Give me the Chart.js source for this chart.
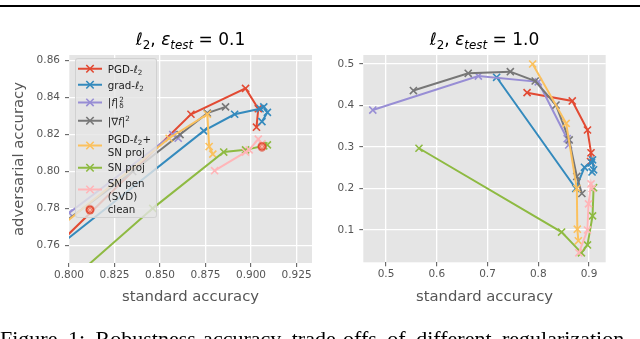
<!DOCTYPE html>
<html>
<head>
<meta charset="utf-8">
<script src="https://cdn.jsdelivr.net/npm/chart.js@4.4.1/dist/chart.umd.min.js"></script>
<style>
html,body{margin:0;padding:0;background:#fff;}
#wrap{position:relative;width:640px;height:339px;overflow:hidden;font-family:"DejaVu Sans",sans-serif;}
canvas.ch{position:absolute;top:0;}
#cL{left:0;} #cR{left:320px;}
#rule{position:absolute;left:0;top:5px;width:640px;height:2.3px;background:#000;}
.ttl{position:absolute;top:31.3px;font-size:17px;line-height:17px;color:#000;white-space:nowrap;transform:translateX(-50%);}
.ttl sub{font-size:0.7em;vertical-align:-0.3em;line-height:0;}
#legend{position:absolute;left:75px;top:58px;width:82px;height:160px;background:rgba(229,229,229,0.8);border:1px solid rgba(204,204,204,0.8);border-radius:3px;box-sizing:border-box;}
.row{position:absolute;left:0;display:flex;align-items:center;font-size:10.3px;line-height:12.5px;color:#222;transform:translateY(-50%);white-space:nowrap;}
.row .hd{margin-left:2px;margin-right:5.7px;flex:none;display:block;}
.row sub,.row sup{font-size:0.7em;line-height:0;}
.row sub{vertical-align:-0.3em;}
.row sup{vertical-align:0.55em;}
.ss{display:inline-flex;flex-direction:column;font-size:0.7em;line-height:0.85em;vertical-align:middle;margin-left:1px;}
#caption{position:absolute;left:0;top:328px;font-family:"Liberation Serif",serif;font-size:22px;line-height:22px;white-space:nowrap;color:#000;word-spacing:5px;}
</style>
</head>
<body>
<div id="wrap">
  <div id="rule"></div>
  <canvas id="cL" class="ch" width="320" height="339"></canvas>
  <canvas id="cR" class="ch" width="320" height="339"></canvas>
  <div class="ttl" style="left:190.5px"><i>ℓ</i><sub>2</sub>, <i>ε<sub>test</sub></i> = 0.1</div>
  <div class="ttl" style="left:484.5px"><i>ℓ</i><sub>2</sub>, <i>ε<sub>test</sub></i> = 1.0</div>
  <div id="legend"></div>
  <div id="caption">Figure 1: Robustness-accuracy trade-offs of different regularization</div>
</div>
<script>
// ---------- DATA ----------
const seriesNames = ["PGD-ℓ₂", "grad-ℓ₂", "‖f‖²δ", "‖∇f‖²", "PGD-ℓ₂ + SN proj", "SN proj", "SN pen (SVD)", "clean"];

// standard accuracy (shared by both panels)
const stdPGD   = [0.778, 0.867, 0.897, 0.904, 0.903];
const stdGrad  = [0.718, 0.874, 0.891, 0.905, 0.907, 0.909, 0.906];
const stdFnorm = [0.474, 0.682, 0.800, 0.857, 0.860];
const stdGradN = [0.554, 0.662, 0.745, 0.794, 0.835, 0.861, 0.876, 0.886];
const stdPGDSN = [0.789, 0.855, 0.876, 0.877, 0.879];
const stdSNproj= [0.565, 0.846, 0.885, 0.897, 0.907, 0.909];
const stdSNpen = [0.880, 0.897, 0.899, 0.904, 0.906];
const stdClean = [0.906];

// adversarial accuracy, eps_test = 0.1
const adv01PGD   = [0.745, 0.831, 0.845, 0.834, 0.824];
const adv01Grad  = [0.700, 0.822, 0.831, 0.834, 0.835, 0.832, 0.827];
const adv01Fnorm = [0.550, 0.700, 0.7775, 0.820, 0.818];
const adv01GradN = [0.500, 0.620, 0.720, 0.770, 0.800, 0.820, 0.8316, 0.835];
const adv01PGDSN = [0.765, 0.818, 0.831, 0.8135, 0.8094];
const adv01SNproj= [0.537, 0.780, 0.8105, 0.8117, 0.8139, 0.8144];
const adv01SNpen = [0.8004, 0.8105, 0.8117, 0.8175, 0.815];
const adv01Clean = [0.8135];

// adversarial accuracy, eps_test = 1.0
const adv10PGD   = [0.431, 0.411, 0.341, 0.286, 0.265];
const adv10Grad  = [0.468, 0.200, 0.251, 0.262, 0.269, 0.245, 0.240];
const adv10Fnorm = [0.389, 0.471, 0.457, 0.320, 0.305];
const adv10GradN = [0.436, 0.4775, 0.4815, 0.459, 0.401, 0.317, 0.229, 0.188];
const adv10PGDSN = [0.500, 0.357, 0.200, 0.102, 0.074];
const adv10SNproj= [0.297, 0.095, 0.045, 0.064, 0.134, 0.202];
const adv10SNpen = [0.045, 0.100, 0.163, 0.211, 0.200];
const adv10Clean = [0.0];

// tick labels
const xTicksL = [0.800, 0.825, 0.850, 0.875, 0.900, 0.925];
const yTicksL = [0.76, 0.78, 0.80, 0.82, 0.84, 0.86];
const xTicksR = [0.5, 0.6, 0.7, 0.8, 0.9];
const yTicksR = [0.1, 0.2, 0.3, 0.4, 0.5];

// ---------- STYLE ----------
const colors = ["#E24A33", "#348ABD", "#988ED5", "#777777", "#FBC15E", "#8EBA42", "#FFB5B8", "#E24A33"];
const legendHTML = [
  'PGD-<i>ℓ</i><sub>2</sub>',
  'grad-<i>ℓ</i><sub>2</sub>',
  '|<i>f</i>|<span class="ss"><span>2</span><span>δ</span></span>',
  '|∇<i>f</i>|<sup>2</sup>',
  'PGD-<i>ℓ</i><sub>2</sub>+<br>SN proj',
  'SN proj',
  'SN pen<br>(SVD)',
  'clean'
];
const legendCenters = [10, 26, 43.7, 62, 86, 108.3, 130, 150.3];

const stdAll  = [stdPGD, stdGrad, stdFnorm, stdGradN, stdPGDSN, stdSNproj, stdSNpen, stdClean];
const adv01All = [adv01PGD, adv01Grad, adv01Fnorm, adv01GradN, adv01PGDSN, adv01SNproj, adv01SNpen, adv01Clean];
const adv10All = [adv10PGD, adv10Grad, adv10Fnorm, adv10GradN, adv10PGDSN, adv10SNproj, adv10SNpen, adv10Clean];

function cleanMarker(size){
  const c = document.createElement('canvas');
  c.width = size; c.height = size;
  const g = c.getContext('2d');
  const r = size/2;
  g.fillStyle = '#E24A33';
  g.beginPath(); g.arc(r, r, r-0.5, 0, Math.PI*2); g.fill();
  g.strokeStyle = 'rgba(255,200,190,0.9)'; g.lineWidth = 0.9;
  for (let k=0;k<4;k++){
    const a = k*Math.PI/4;
    g.beginPath();
    g.moveTo(r - Math.cos(a)*(r-2), r - Math.sin(a)*(r-2));
    g.lineTo(r + Math.cos(a)*(r-2), r + Math.sin(a)*(r-2));
    g.stroke();
  }
  return c;
}

function buildDatasets(advAll){
  const n = seriesNames.length;
  return seriesNames.map((name, i) => {
    const isClean = i === n-1;
    return {
      label: name,
      data: stdAll[i].map((x, j) => ({x: x, y: advAll[i][j]})),
      showLine: !isClean,
      borderColor: colors[i],
      backgroundColor: colors[i],
      borderWidth: 2,
      pointStyle: isClean ? cleanMarker(10) : 'crossRot',
      pointRadius: 5,
      pointBorderWidth: 1.6,
      pointBorderColor: colors[i],
      pointHoverRadius: 5,
      order: n - i,
      clip: 0
    };
  });
}

const bgPlugin = {
  id: 'bg',
  beforeDraw(chart){
    const {ctx, chartArea: a} = chart;
    ctx.save();
    ctx.fillStyle = '#E5E5E5';
    ctx.fillRect(a.left, a.top, a.right - a.left, a.bottom - a.top);
    ctx.restore();
  }
};

const tickFont = {family: 'DejaVu Sans', size: 10.5};
const titleFont = {family: 'DejaVu Sans', size: 14.8};

function makeChart(id, advAll, xr, yr, xt, yt, xDec, yDec, yWidth, padRight, xHeight, yTitle){
  return new Chart(document.getElementById(id), {
    type: 'scatter',
    data: {datasets: buildDatasets(advAll)},
    options: {
      responsive: false, animation: false, devicePixelRatio: 1,
      layout: {padding: {top: 55, left: 0, right: padRight, bottom: 26}},
      plugins: {legend: {display: false}, tooltip: {enabled: false}},
      scales: {
        x: {
          type: 'linear', min: xr[0], max: xr[1],
          afterBuildTicks: s => { s.ticks = xt.map(v => ({value: v})); },
          afterFit: s => { s.height = xHeight; },
          ticks: {callback: v => Number(v).toFixed(xDec), color: '#555555', font: tickFont, padding: 2, maxRotation: 0, autoSkip: false},
          grid: {color: '#ffffff', lineWidth: 1.3, drawTicks: true, tickLength: 4, tickColor: '#555555', tickWidth: 1},
          border: {display: false},
          title: {display: true, text: 'standard accuracy', color: '#555555', font: titleFont, padding: {top: 0, bottom: 7.4}}
        },
        y: {
          type: 'linear', min: yr[0], max: yr[1],
          afterBuildTicks: s => { s.ticks = yt.map(v => ({value: v})); },
          afterFit: s => { s.width = yWidth; },
          ticks: {callback: v => Number(v).toFixed(yDec), color: '#555555', font: tickFont, padding: 5, autoSkip: false},
          grid: {color: '#ffffff', lineWidth: 1.3, drawTicks: true, tickLength: 4, tickColor: '#555555', tickWidth: 1},
          border: {display: false},
          title: {display: !!yTitle, text: yTitle || '', color: '#555555', font: titleFont, padding: {top: 10.1, bottom: 0}}
        }
      }
    },
    plugins: [bgPlugin]
  });
}

makeChart('cL', adv01All, [0.8, 0.9335], [0.7504, 0.8631], xTicksL, yTicksL, 3, 2, 69, 8, 50, 'adversarial accuracy');
makeChart('cR', adv10All, [0.4553, 0.9329], [0.0222, 0.5217], xTicksR, yTicksR, 1, 1, 43.3, 34.3, 50.7, '');

// ---------- legend (HTML, real text) ----------
const lg = document.getElementById('legend');
seriesNames.forEach((name, i) => {
  const row = document.createElement('div');
  row.className = 'row';
  row.style.top = legendCenters[i] + 'px';
  let hd;
  if (i === seriesNames.length - 1) {
    hd = document.createElement('div');
    hd.style.width = '24px'; hd.style.height = '12px'; hd.style.position = 'relative';
    const m = cleanMarker(10);
    m.style.position = 'absolute'; m.style.left = '7px'; m.style.top = '1px';
    hd.appendChild(m);
  } else {
    hd = document.createElementNS('http://www.w3.org/2000/svg', 'svg');
    hd.setAttribute('width', '24'); hd.setAttribute('height', '12');
    hd.innerHTML = '<line x1="0" y1="6" x2="24" y2="6" stroke="' + colors[i] + '" stroke-width="2"/>' +
      '<path d="M8.3 2.3 L15.7 9.7 M15.7 2.3 L8.3 9.7" stroke="' + colors[i] + '" stroke-width="1.6" fill="none"/>';
  }
  hd.classList.add('hd');
  row.appendChild(hd);
  const t = document.createElement('span');
  t.innerHTML = legendHTML[i];
  t.title = name;
  row.appendChild(t);
  lg.appendChild(row);
});
</script>
</body>
</html>
